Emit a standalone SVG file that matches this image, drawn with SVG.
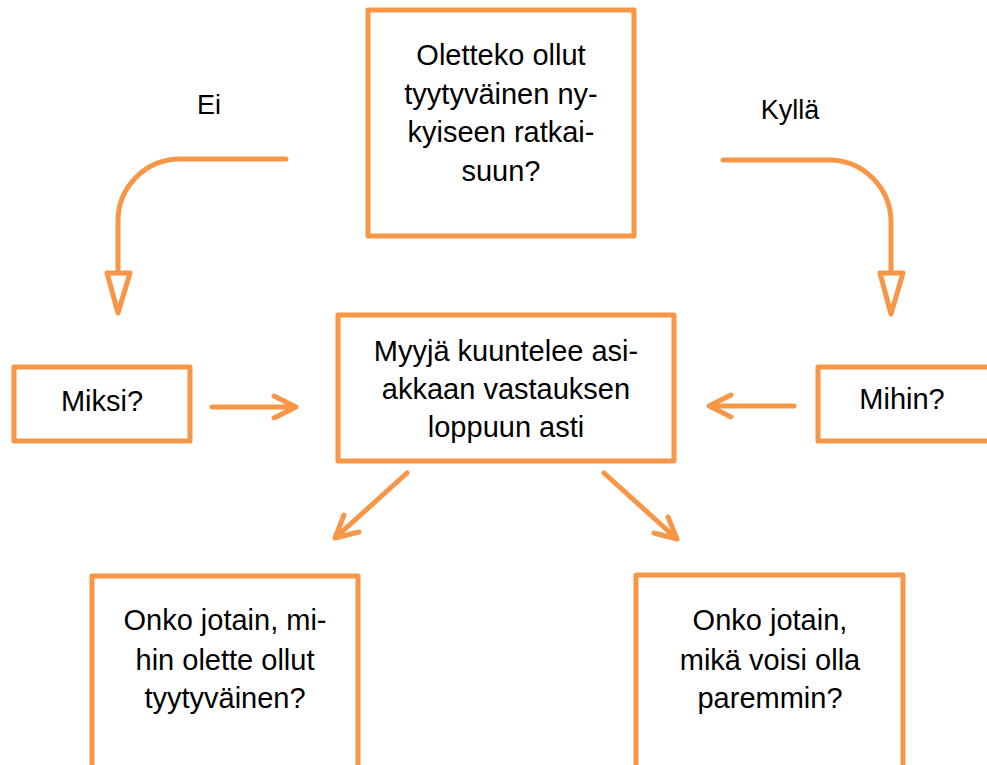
<svg xmlns="http://www.w3.org/2000/svg" width="987" height="765" viewBox="0 0 987 765">
<defs>
<style>
.box{fill:#fff;stroke:#F79646;stroke-width:5;stroke-linejoin:round}
.ln{fill:none;stroke:#F79646;stroke-width:5;stroke-linecap:round;stroke-linejoin:round}
.hd{fill:#fff;stroke:#F79646;stroke-width:5;stroke-linejoin:round}
.t{font-family:"Liberation Sans",Arial,sans-serif;font-size:29px;fill:#000;text-anchor:middle}
.lb{font-family:"Liberation Sans",Arial,sans-serif;font-size:27px;fill:#000;text-anchor:middle}
</style>
</defs>
<rect width="987" height="765" fill="#fff"/>
<g id="connectors">
<path class="ln" d="M286,159 H180 A62,62 0 0 0 118,221 V272"/>
<polygon class="hd" points="107,273 130,273 118,313"/>
<path class="ln" d="M723,160 H829 A62,62 0 0 1 891,222 V272"/>
<polygon class="hd" points="880,273 903,273 891,314"/>
<path class="ln" d="M212,407 H296 M274,396 L296,407 L274,418"/>
<path class="ln" d="M794,406 H710 M731,395 L709,406 L731,417"/>
<path class="ln" d="M407,473 L335,538 M344,515 L335,538 L359,532"/>
<path class="ln" d="M604,473 L677,539 M668,517 L677,539 L654,533"/>
</g>
<g id="label-ei"><text class="lb" x="209" y="114">Ei</text></g>
<g id="label-kylla"><text class="lb" x="790" y="119">Kyllä</text></g>
<g id="node-top">
<rect class="box" x="368" y="10" width="266" height="226"/>
<text class="t" x="501" y="65">Oletteko ollut</text>
<text class="t" x="501" y="104">tyytyväinen ny-</text>
<text class="t" x="501" y="142">kyiseen ratkai-</text>
<text class="t" x="501" y="181">suun?</text>
</g>
<g id="node-miksi">
<rect class="box" x="14" y="367" width="176" height="74"/>
<text class="t" x="102" y="411">Miksi?</text>
</g>
<g id="node-center">
<rect class="box" x="338" y="315" width="336" height="146"/>
<text class="t" x="506" y="361">Myyjä kuuntelee asi-</text>
<text class="t" x="506" y="399">akkaan vastauksen</text>
<text class="t" x="506" y="437">loppuun asti</text>
</g>
<g id="node-mihin">
<rect class="box" x="818" y="367" width="180" height="74"/>
<text class="t" x="902" y="409">Mihin?</text>
</g>
<g id="node-bottom-left">
<rect class="box" x="92" y="576" width="266" height="200"/>
<text class="t" x="225" y="630">Onko jotain, mi-</text>
<text class="t" x="225" y="670">hin olette ollut</text>
<text class="t" x="225" y="708">tyytyväinen?</text>
</g>
<g id="node-bottom-right">
<rect class="box" x="636" y="575" width="267" height="200"/>
<text class="t" x="770" y="630">Onko jotain,</text>
<text class="t" x="770" y="670">mikä voisi olla</text>
<text class="t" x="770" y="708">paremmin?</text>
</g>
</svg>
